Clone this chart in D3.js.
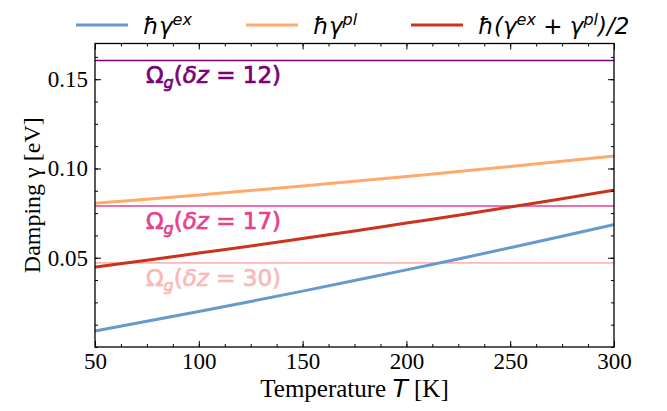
<!DOCTYPE html>
<html>
<head>
<meta charset="utf-8">
<script src="https://cdn.jsdelivr.net/npm/d3@7"></script>
<style>
  body { margin: 0; background: #fff; }
  svg text { font-family: "Liberation Serif", serif; }
  .math { font-family: "DejaVu Sans", sans-serif; }
</style>
</head>
<body>
<svg id="chart" width="667" height="411"></svg>
<script>
// temperatures (K) at which the curves were read
const temps = [50, 75, 100, 125, 150, 175, 200, 225, 250, 275, 300]
// damping curves in eV
const gammaEx = [0.0090, 0.0144, 0.0199, 0.0255, 0.0313, 0.0372, 0.0432, 0.0493, 0.0556, 0.0620, 0.0686]
const gammaPl = [0.0805, 0.0828, 0.0852, 0.0877, 0.0902, 0.0928, 0.0955, 0.0983, 0.1011, 0.1040, 0.1070]
const gammaAvg = [0.0448, 0.0486, 0.0526, 0.0566, 0.0608, 0.0650, 0.0694, 0.0738, 0.0784, 0.0830, 0.0878]
// horizontal reference levels
const omegaDz = ['12', '17', '30']
const omegaVal = [0.1605, 0.0790, 0.0471]
const omegaColor = ['#7a0177', '#e7408f', '#f9b9b7']

const xTicks = [50, 100, 150, 200, 250, 300]
const yTicks = [0.05, 0.10, 0.15]

const margin = {left: 95, right: 53, top: 43.5, bottom: 64}
const width = 667, height = 411
const svg = d3.select('#chart')

const x = d3.scaleLinear().domain([50, 300]).range([margin.left, width - margin.right])
const y = d3.scaleLinear().domain([0, 0.17]).range([height - margin.bottom, margin.top])

const x0 = x.range()[0], x1 = x.range()[1]
const y0 = y.range()[0], y1 = y.range()[1]

// reference lines
omegaVal.forEach((v, i) => {
  svg.append('line')
    .attr('x1', x0).attr('x2', x1)
    .attr('y1', y(v)).attr('y2', y(v))
    .attr('stroke', omegaColor[i]).attr('stroke-width', 1.6)

  const t = svg.append('text')
    .attr('class', 'math')
    .attr('x', 146).attr('y', y(v) + 23)
    .attr('font-size', 23)
    .attr('fill', omegaColor[i])
    .attr('stroke', omegaColor[i]).attr('stroke-width', 0.7)
  t.append('tspan').text('Ω')
  t.append('tspan').attr('font-style', 'italic').attr('font-size', 16).attr('dy', 5).text('g')
  t.append('tspan').attr('dy', -5).text('(')
  t.append('tspan').attr('font-style', 'italic').text('δz')
  t.append('tspan').text(' = ' + omegaDz[i] + ')')
})

// data curves
const series = [
  {vals: gammaEx, color: '#6699cc'},
  {vals: gammaPl, color: '#ffaa6b'},
  {vals: gammaAvg, color: '#c8341c'}
]
const line = d3.line()
  .x((d, i) => x(temps[i]))
  .y(d => y(d))
  .curve(d3.curveMonotoneX)

series.forEach(s => {
  svg.append('path')
    .datum(s.vals)
    .attr('d', line)
    .attr('fill', 'none')
    .attr('stroke', s.color)
    .attr('stroke-width', 3)
})

// axes: ticks inward on all four sides
const xMinor = d3.range(50, 300.1, 12.5)
const yMinor = d3.range(0, 0.1701, 0.0125)

svg.append('g').attr('transform', `translate(0,${y0})`)
  .call(d3.axisBottom(x).tickValues(xTicks).tickSizeInner(-6).tickSizeOuter(0).tickPadding(6).tickFormat(d3.format('d')))
svg.append('g').attr('transform', `translate(0,${y1})`)
  .call(d3.axisTop(x).tickValues(xTicks).tickSizeInner(-6).tickSizeOuter(0).tickFormat(''))
svg.append('g').attr('transform', `translate(${x0},0)`)
  .call(d3.axisLeft(y).tickValues(yTicks).tickSizeInner(-6).tickSizeOuter(0).tickPadding(7).tickFormat(d3.format('.2f')))
svg.append('g').attr('transform', `translate(${x1},0)`)
  .call(d3.axisRight(y).tickValues(yTicks).tickSizeInner(-6).tickSizeOuter(0).tickFormat(''))

svg.append('g').attr('transform', `translate(0,${y0})`)
  .call(d3.axisBottom(x).tickValues(xMinor).tickSize(-3).tickFormat(''))
svg.append('g').attr('transform', `translate(0,${y1})`)
  .call(d3.axisTop(x).tickValues(xMinor).tickSize(-3).tickFormat(''))
svg.append('g').attr('transform', `translate(${x0},0)`)
  .call(d3.axisLeft(y).tickValues(yMinor).tickSize(-3).tickFormat(''))
svg.append('g').attr('transform', `translate(${x1},0)`)
  .call(d3.axisRight(y).tickValues(yMinor).tickSize(-3).tickFormat(''))

svg.selectAll('.domain').remove()
svg.selectAll('.tick line').attr('stroke', '#000').attr('stroke-width', 1)
svg.selectAll('.tick text')
  .attr('font-family', 'Liberation Serif, serif')
  .attr('font-size', 23)
  .attr('fill', '#000')

svg.append('rect')
  .attr('x', x0).attr('y', y1)
  .attr('width', x1 - x0).attr('height', y0 - y1)
  .attr('fill', 'none').attr('stroke', '#000').attr('stroke-width', 1.3)

// axis titles
const xl = svg.append('text')
  .attr('x', (x0 + x1) / 2).attr('y', 397)
  .attr('text-anchor', 'middle').attr('font-size', 25)
xl.append('tspan').text('Temperature ')
xl.append('tspan').attr('class', 'math').attr('font-style', 'italic').text('T')
xl.append('tspan').text(' [K]')

const yl = svg.append('text')
  .attr('transform', `translate(40,${(y0 + y1) / 2}) rotate(-90)`)
  .attr('text-anchor', 'middle').attr('font-size', 24)
yl.append('tspan').text('Damping ')
yl.append('tspan').text('γ')
yl.append('tspan').text(' [eV]')

// legend
const legend = [
  {x: 76, color: '#6699cc', parts: [['ħγ', 0], ['ex', 1]]},
  {x: 246, color: '#ffaa6b', parts: [['ħγ', 0], ['pl', 1]]},
  {x: 411, color: '#c8341c', parts: [['ħ(γ', 0], ['ex', 1], [' + γ', 0], ['pl', 1], [')/2', 0]]}
]
legend.forEach(l => {
  svg.append('line')
    .attr('x1', l.x).attr('x2', l.x + 52)
    .attr('y1', 25).attr('y2', 25)
    .attr('stroke', l.color).attr('stroke-width', 3)
  const t = svg.append('text')
    .attr('class', 'math')
    .attr('x', l.x + 67).attr('y', 34)
    .attr('font-size', 23).attr('font-style', 'italic')
  let up = false
  l.parts.forEach(p => {
    const ts = t.append('tspan').text(p[0])
    if (p[1] && !up) { ts.attr('dy', -9).attr('font-size', 16); up = true }
    else if (!p[1] && up) { ts.attr('dy', 9); up = false }
  })
})
</script>
</body>
</html>
